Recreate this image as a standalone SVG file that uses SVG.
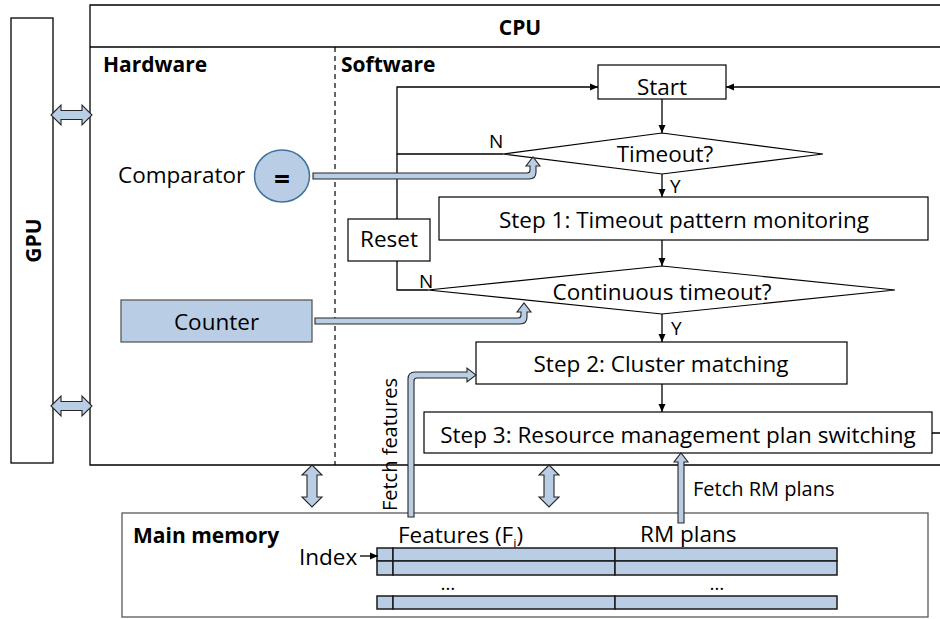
<svg xmlns="http://www.w3.org/2000/svg" width="940" height="619" viewBox="0 0 940 619">
<defs>
<marker id="ah" markerWidth="9" markerHeight="8" refX="8" refY="4" orient="auto" markerUnits="userSpaceOnUse">
<path d="M0,0.5 L8,4 L0,7.5 Z" fill="#000"/>
</marker>
<style>
text{font-family:"Open Sans","Liberation Sans",sans-serif;fill:#000}
.t{font-size:22.5px}
.tc{font-size:22.5px;text-anchor:middle}
.b{font-size:21px;font-weight:bold}
.s{font-size:19px}
.f{font-size:20px}
.box{fill:#fff;stroke:#000;stroke-width:1.2}
.frame{fill:none;stroke:#000;stroke-width:1.3}
.ln{fill:none;stroke:#000;stroke-width:1.3}
.arr{fill:none;stroke:#000;stroke-width:1.3;marker-end:url(#ah)}
.blk{fill:#b9cde5;stroke:#262626;stroke-width:1.1;stroke-linejoin:miter}
.cell{fill:#b9cde5;stroke:#1a1a1a;stroke-width:1.5}
</style>
</defs>
<rect width="940" height="619" fill="#fff"/>

<g id="gpu">
<rect x="11" y="18" width="42" height="445" class="frame" stroke-width="1"/>
<text class="b" font-size="22" text-anchor="middle" transform="translate(41,240.5) rotate(-90)">GPU</text>
</g>

<g id="cpu">
<path d="M950,5 H90 V465 H950" class="frame"/>
<line x1="90" y1="47" x2="950" y2="47" class="ln"/>
<line x1="335" y1="47" x2="335" y2="465" stroke="#000" stroke-width="1.2" stroke-dasharray="5,4"/>
<text class="b" x="520" y="35" text-anchor="middle">CPU</text>
<text class="b" x="103" y="72">Hardware</text>
<text class="b" x="341" y="72">Software</text>
</g>

<g id="comparator">
<text class="t" x="118" y="183">Comparator</text>
<ellipse cx="282" cy="176" rx="27.5" ry="26" fill="#b9cde5" stroke="#41719c" stroke-width="1.5"/>
<text x="282" y="188.5" text-anchor="middle" font-size="28" font-weight="bold">=</text>
</g>

<g id="counter">
<rect x="121" y="300" width="191" height="42" fill="#b9cde5" stroke="#595959" stroke-width="1.3"/>
<text class="tc" x="216.5" y="330">Counter</text>
</g>

<g id="start">
<rect x="598" y="65" width="128" height="34" class="box"/>
<text class="tc" x="662" y="95">Start</text>
</g>

<g id="timeout">
<polygon points="503,154 662,133 823,154 662,174" class="box"/>
<text class="tc" x="665" y="162">Timeout?</text>
</g>

<g id="step1">
<rect x="439" y="197" width="489" height="43" class="box"/>
<text class="tc" x="684" y="228">Step 1: Timeout pattern monitoring</text>
</g>

<g id="reset">
<rect x="348" y="219" width="82" height="42" class="box"/>
<text class="tc" x="389" y="247">Reset</text>
</g>

<g id="continuous">
<polygon points="428,290 662,266 895,290 662,314" class="box"/>
<text class="tc" x="662" y="300">Continuous timeout?</text>
</g>

<g id="step2">
<rect x="476" y="342" width="371" height="42" class="box"/>
<text class="tc" x="661" y="372">Step 2: Cluster matching</text>
</g>

<g id="step3">
<rect x="424" y="412" width="508" height="41" class="box"/>
<text class="tc" x="678" y="443">Step 3: Resource management plan switching</text>
</g>

<g id="memory">
<rect x="122" y="513" width="806" height="104" fill="#fff" stroke="#595959" stroke-width="1.3"/>
<text class="b" x="133" y="543">Main memory</text>
<text class="t" x="299" y="565">Index</text>
<text class="t" x="398" y="543">Features (F<tspan font-size="13" dy="5">i</tspan><tspan dy="-5">)</tspan></text>
<text class="t" x="640" y="542">RM plans</text>
<rect x="377" y="548" width="16" height="13" class="cell"/>
<rect x="393" y="548" width="222" height="13" class="cell"/>
<rect x="615" y="548" width="222" height="13" class="cell"/>
<rect x="377" y="561" width="16" height="14" class="cell"/>
<rect x="393" y="561" width="222" height="14" class="cell"/>
<rect x="615" y="561" width="222" height="14" class="cell"/>
<rect x="377" y="596" width="16" height="13" class="cell"/>
<rect x="393" y="596" width="222" height="13" class="cell"/>
<rect x="615" y="596" width="222" height="13" class="cell"/>
<text class="s" x="448" y="590" text-anchor="middle">…</text>
<text class="s" x="717" y="590" text-anchor="middle">…</text>
</g>

<g id="connectors">
<line x1="662" y1="99" x2="662" y2="133" class="arr"/>
<line x1="662" y1="174" x2="662" y2="197" class="arr"/>
<line x1="662" y1="240" x2="662" y2="266" class="arr"/>
<line x1="662" y1="314" x2="662" y2="342" class="arr"/>
<line x1="662" y1="384" x2="662" y2="412" class="arr"/>
<path d="M503,154 H397 V87 H598" class="arr"/>
<line x1="397" y1="154" x2="397" y2="219" class="ln"/>
<path d="M397,261 V290 H428" class="ln"/>
<path d="M932,433 H950 V87 H726" class="arr"/>
<line x1="360" y1="556" x2="378" y2="556" class="arr" stroke-width="2"/>
<text class="s" x="489" y="148">N</text>
<text class="s" x="670" y="193">Y</text>
<text class="s" x="419" y="288">N</text>
<text class="s" x="671" y="335">Y</text>

<path class="blk" d="M313,173 H527 Q530,173 530,170 V166 H526 L533,157 L540,166 H536 V172 Q536,179 529,179 H313 Z"/>
<path class="blk" d="M315,318 H518 Q521,318 521,315 V312 H517 L524,303 L531,312 H527 V317 Q527,324 520,324 H315 Z"/>
<path class="blk" d="M408,517 V379 Q408,372 415,372 H467 V368 L476,375 L467,382 V378 H417 Q414,378 414,381 V517 Z"/>
<path class="blk" d="M678,523 V462 H674 L681,453 L688,462 H684 V523 Z"/>

<path class="blk" d="M51,115 L61,105 V110.5 H82 V105 L92,115 L82,125 V119.5 H61 V125 Z"/>
<path class="blk" d="M51,406 L61,396 V401.5 H82 V396 L92,406 L82,416 V410.5 H61 V416 Z"/>
<path class="blk" d="M312,465 L322,475 H317 V497 H322 L312,507 L302,497 H307 V475 H302 Z"/>
<path class="blk" d="M549,465 L559,475 H554 V497 H559 L549,507 L539,497 H544 V475 H539 Z"/>

<text class="f" transform="translate(397,444.5) rotate(-90)" text-anchor="middle">Fetch features</text>
<text class="f" x="693" y="496">Fetch RM plans</text>
</g>
</svg>
